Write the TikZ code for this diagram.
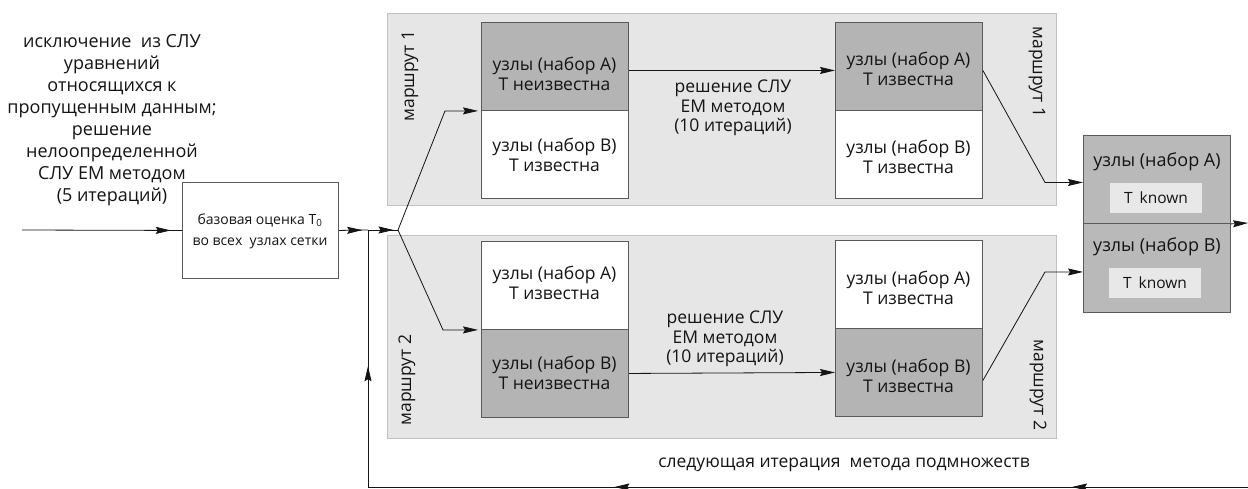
\documentclass[tikz,border=0pt]{standalone}
\usepackage{fontspec}
\setmainfont{Open Sans}
\usetikzlibrary{arrows.meta,decorations.markings,calc}
\definecolor{panelfill}{HTML}{E6E6E6}
\definecolor{panelline}{HTML}{C2C2C2}
\definecolor{cellgrey}{HTML}{B4B4B4}
\definecolor{outgrey}{HTML}{B9B9B9}
\definecolor{innergrey}{HTML}{E8E8E8}
\definecolor{boxline}{HTML}{5A5A5A}
\definecolor{ink}{HTML}{141414}
\newcommand{\bigfont}{\fontsize{18pt}{22pt}\selectfont}
\newcommand{\boxfont}{\fontsize{17.5pt}{19.5pt}\selectfont}
\newcommand{\smallfont}{\fontsize{14pt}{21pt}\selectfont}
\newcommand{\knownfont}{\fontsize{15.5pt}{18pt}\selectfont}
\begin{document}
\begin{tikzpicture}[x=1pt,y=1pt,
 panel/.style={draw=panelline, fill=panelfill, line width=1pt, minimum width=669pt, inner sep=0pt, anchor=north west},
 cellbox/.style={draw=boxline, line width=0.9pt, minimum width=147pt, minimum height=88pt, inner sep=0pt, anchor=north west},
 darkcell/.style={cellbox, fill=cellgrey},
 lightcell/.style={cellbox, fill=white},
 outcell/.style={cellbox, fill=outgrey},
 txt/.style={align=center, text=ink, font=\boxfont, inner sep=0pt},
 route/.style={text=ink, font=\boxfont, inner sep=0pt},
 inner/.style={fill=innergrey, minimum width=92pt, minimum height=30pt, inner sep=0pt, text=ink, font=\knownfont},
 conn/.style={draw=ink, line width=0.8pt},
 arr/.style={-{Stealth[length=15pt,width=7pt,inset=2pt]}},
 midarr/.style={postaction={decorate}, decoration={markings, mark=at position #1 with {\arrow{Stealth[length=15pt,width=7pt,inset=2pt]}}}},
]
\useasboundingbox[fill=white] (0,0) rectangle (1248,-488);

% panels
\node[panel, minimum height=192pt] (p1) at (387,-13) {};
\node[panel, minimum height=203pt] (p2) at (387,-235) {};

% cells
\node[darkcell] (a1) at (481,-22) {};
\node[lightcell] (b1) at (481,-110) {};
\node[darkcell] (a2) at (835,-22) {};
\node[lightcell] (b2) at (835,-110) {};
\node[lightcell] (a3) at (481,-241) {};
\node[darkcell] (b3) at (481,-329) {};
\node[lightcell] (a4) at (835,-240) {};
\node[darkcell] (b4) at (835,-328) {};

\node[txt] (a1t) at (554.5,-74) {узлы (набор А)\\Т неизвестна};
\node[txt] (b1t) at (554.5,-155) {узлы (набор В)\\Т известна};
\node[txt] (a2t) at (908.5,-69) {узлы (набор А)\\Т известна};
\node[txt] (b2t) at (908.5,-157) {узлы (набор В)\\Т известна};
\node[txt] (a3t) at (554.5,-283) {узлы (набор А)\\Т известна};
\node[txt] (b3t) at (554.5,-373) {узлы (набор В)\\Т неизвестна};
\node[txt] (a4t) at (908.5,-288) {узлы (набор А)\\Т известна};
\node[txt] (b4t) at (908.5,-376) {узлы (набор В)\\Т известна};

% route labels
\node[route, rotate=90] (r1a) at (410,-76) {маршрут 1};
\node[route, rotate=-90] (r1b) at (1037,-72) {маршрут 1};
\node[route, rotate=90] (r2a) at (407,-380) {маршрут 2};
\node[route, rotate=-90] (r2b) at (1038,-385) {маршрут 2};

% middle labels
\node[txt] (m1) at (733,-108) {решение СЛУ\\ЕМ методом\\(10 итераций)};
\node[txt] (m2) at (725,-339) {решение СЛУ\\ЕМ методом\\(10 итераций)};

% left text
\node[align=center, text=ink, font=\bigfont, inner sep=0pt] (intro) at (112,-120)
 {исключение\ \ из СЛУ\\уравнений\\относящихся к\\пропущенным данным;\\решение\\нелоопределенной\\СЛУ ЕМ методом\\(5 итераций)};

% base box
\node[draw=boxline, fill=white, line width=0.9pt, minimum width=156pt, minimum height=96pt,
 anchor=north west, inner sep=0pt] (base) at (182,-182) {};
\node[align=center, text=ink, font=\smallfont, inner sep=0pt] (baset) at (260,-231)
 {базовая оценка T\textsubscript{0}\\во всех\ \ узлах сетки};

% output box
\node[outcell] (o1) at (1083,-135) {};
\node[outcell, minimum height=89pt] (o2) at (1083,-223) {};
\node[txt, font=\fontsize{18pt}{20pt}\selectfont] (o1t) at (1157,-162) {узлы (набор А)};
\node[inner] (k1) at (1156,-198) {T\hspace{0.45em}known};
\node[txt, font=\fontsize{18pt}{20pt}\selectfont] (o2t) at (1157,-247) {узлы (набор В)};
\node[inner] (k2) at (1155,-283) {T\hspace{0.45em}known};

% bottom label
\node[txt] (fbt) at (844,-465) {следующая итерация\ \ метода подмножеств};

% coordinates
\coordinate (inp) at (22,-230);
\coordinate (j1) at (368,-230);
\coordinate (br) at (398,-230);
\coordinate (outc) at (1248,-223);
\coordinate (fbR) at (1248,-487);
\coordinate (fbL) at (368,-487);

% connectors
\draw[conn, midarr=0.93] (inp) -- (base.west);
\draw[conn, midarr=0.8] (base.east) -- (j1);
\draw[conn, midarr=0.85] (j1) -- (br);
\draw[conn, arr, shorten >=3pt] (br) -- ($(a1.south west)+(-36,0)$) -- (a1.south west);
\draw[conn, arr, shorten >=3pt] (br) -- ($(a3.south west)+(-38,0)$) -- (a3.south west);
\draw[conn, arr] ($(a1.east)+(0,-4)$) -- ($(a2.west)+(0,-4)$);
\draw[conn, arr] (b3.east) -- (b4.west);
\draw[conn, arr] ($(a2.east)+(0,-4)$) -- ($(o1.west)+(-38,-3)$) -- ($(o1.west)+(0,-3)$);
\draw[conn, arr] ($(b4.east)+(0,-8)$) -- ($(o2.west)+(-38,-4)$) -- ($(o2.west)+(0,-4)$);
\draw[conn, arr] (o1.south east) -- (outc);
\draw[conn, postaction={decorate}, decoration={markings,
   mark=at position 0.2 with {\arrow{Stealth[length=15pt,width=7pt,inset=2pt]}},
   mark=at position 0.72 with {\arrow{Stealth[length=15pt,width=7pt,inset=2pt]}}}] (fbR) -- (fbL);
\draw[conn, midarr=0.47] (fbL) -- (j1);
\end{tikzpicture}
\end{document}
